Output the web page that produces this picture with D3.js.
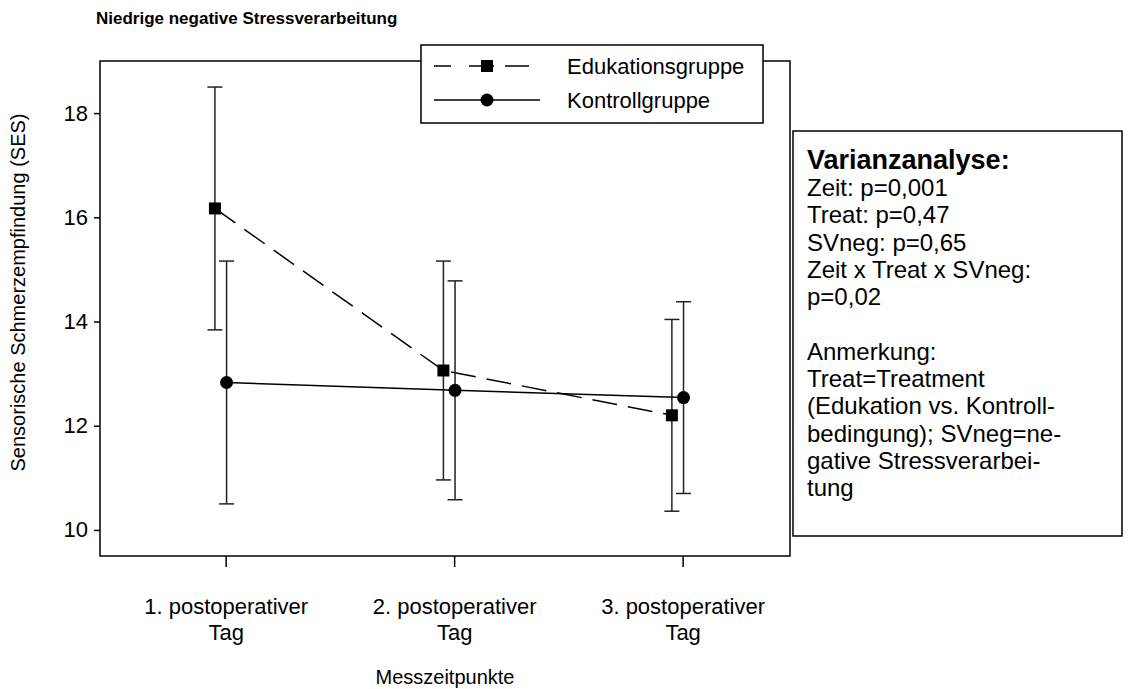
<!DOCTYPE html>
<html>
<head>
<meta charset="utf-8">
<script src="https://cdn.jsdelivr.net/npm/d3@7"></script>
<style>
  body { margin: 0; background: #fff; }
  svg { display: block; font-family: Arial, "Liberation Sans", sans-serif; }
</style>
</head>
<body>
<script>
// Werte
const categories = [1, 2, 3];
const categoryLabels = [["1. postoperativer", "Tag"], ["2. postoperativer", "Tag"], ["3. postoperativer", "Tag"]];
const eduMean = [16.17, 13.06, 12.20];
const eduErr = [2.33, 2.10, 1.84];
const konMean = [12.83, 12.68, 12.54];
const konErr = [2.33, 2.10, 1.84];
const yTicks = [10, 12, 14, 16, 18];
const statsLines = ["Zeit: p=0,001", "Treat: p=0,47", "SVneg: p=0,65", "Zeit x Treat x SVneg:", "p=0,02", "",
  "Anmerkung:", "Treat=Treatment", "(Edukation vs. Kontroll-", "bedingung); SVneg=ne-", "gative Stressverarbei-", "tung"];

const width = 1136, height = 689;
const plot = {left: 100, right: 790, top: 61, bottom: 556};

const svg = d3.select('body').append('svg')
  .attr('width', width)
  .attr('height', height);

const x = d3.scaleLinear().domain([0.45, 3.47]).range([plot.left, plot.right]);
const y = d3.scaleLinear().domain([9.5, 19]).range([plot.bottom, plot.top]);

// rahmen
svg.append('rect')
  .attr('x', plot.left).attr('y', plot.top)
  .attr('width', plot.right - plot.left).attr('height', plot.bottom - plot.top)
  .attr('fill', 'none').attr('stroke', '#000').attr('stroke-width', 1.5);

// y achse
const yAxis = svg.append('g')
  .attr('transform', `translate(${plot.left},0)`)
  .call(d3.axisLeft(y).tickValues(yTicks).tickSize(6).tickPadding(6));
yAxis.select('.domain').remove();
yAxis.selectAll('line').attr('stroke', '#000').attr('stroke-width', 1.5);
yAxis.selectAll('text').attr('font-size', 22).attr('fill', '#000').attr('font-family', null);

// x achse
const xAxis = svg.append('g')
  .attr('transform', `translate(0,${plot.bottom})`)
  .call(d3.axisBottom(x).tickValues(categories).tickSize(11).tickFormat(''));
xAxis.select('.domain').remove();
xAxis.selectAll('line').attr('stroke', '#000').attr('stroke-width', 1.5);
xAxis.selectAll('.tick').each(function(d, i) {
  const t = d3.select(this).append('text')
    .attr('fill', '#000').attr('font-size', 22).attr('text-anchor', 'middle');
  categoryLabels[i].forEach((s, j) => {
    t.append('tspan').attr('x', 0).attr('y', 58 + j * 26).text(s);
  });
});

svg.append('text')
  .attr('x', 445).attr('y', 684)
  .attr('text-anchor', 'middle').attr('font-size', 20)
  .text('Messzeitpunkte');

svg.append('text')
  .attr('transform', `translate(25,${(plot.top + plot.bottom) / 2 - 16}) rotate(-90)`)
  .attr('text-anchor', 'middle').attr('font-size', 20)
  .text('Sensorische Schmerzempfindung (SES)');

svg.append('text')
  .attr('x', 96).attr('y', 24)
  .attr('font-size', 17).attr('font-weight', 'bold')
  .text('Niedrige negative Stressverarbeitung');

// gruppen
const groups = [
  {name: 'Edukationsgruppe', mean: eduMean, err: eduErr, off: -0.047, dash: '25,11', shape: 'square'},
  {name: 'Kontrollgruppe', mean: konMean, err: konErr, off: 0.004, dash: null, shape: 'circle'}
];

groups.forEach(g => {
  const pts = categories.map((c, i) => ({cx: x(c + g.off), m: g.mean[i], e: g.err[i]}));
  const gg = svg.append('g');

  // fehlerbalken
  pts.forEach(p => {
    gg.append('line')
      .attr('x1', p.cx).attr('x2', p.cx)
      .attr('y1', y(p.m - p.e)).attr('y2', y(p.m + p.e))
      .attr('stroke', '#222').attr('stroke-width', 1.5);
    [p.m - p.e, p.m + p.e].forEach(v => {
      gg.append('line')
        .attr('x1', p.cx - 7.5).attr('x2', p.cx + 7.5)
        .attr('y1', y(v)).attr('y2', y(v))
        .attr('stroke', '#222').attr('stroke-width', 1.5);
    });
  });

  gg.append('path')
    .datum(pts)
    .attr('d', d3.line().x(p => p.cx).y(p => y(p.m)))
    .attr('fill', 'none').attr('stroke', '#000').attr('stroke-width', 1.5)
    .attr('stroke-dasharray', g.dash);

  pts.forEach(p => {
    if (g.shape === 'square') {
      gg.append('rect')
        .attr('x', p.cx - 6).attr('y', y(p.m) - 6)
        .attr('width', 12).attr('height', 12).attr('fill', '#000');
    } else {
      gg.append('circle').attr('cx', p.cx).attr('cy', y(p.m)).attr('r', 6.5).attr('fill', '#000');
    }
  });
});

// legende
const leg = svg.append('g');
leg.append('rect')
  .attr('x', 421).attr('y', 45).attr('width', 342).attr('height', 78)
  .attr('fill', '#fff').attr('stroke', '#000').attr('stroke-width', 1.5);
groups.forEach((g, i) => {
  const ly = 66 + i * 34;
  leg.append('line')
    .attr('x1', 434).attr('x2', g.dash ? 530 : 540).attr('y1', ly).attr('y2', ly)
    .attr('stroke', '#000').attr('stroke-width', 1.5)
    .attr('stroke-dasharray', g.dash ? '17,18,25,11,24' : null);
  if (g.shape === 'square') {
    leg.append('rect').attr('x', 481).attr('y', ly - 6).attr('width', 12).attr('height', 12).attr('fill', '#000');
  } else {
    leg.append('circle').attr('cx', 487).attr('cy', ly).attr('r', 6.5).attr('fill', '#000');
  }
  leg.append('text')
    .attr('x', 567).attr('y', ly + 8)
    .attr('font-size', 22)
    .text(g.name);
});

// statistik kasten
const box = svg.append('g');
box.append('rect')
  .attr('x', 793).attr('y', 131).attr('width', 329).attr('height', 405)
  .attr('fill', '#fff').attr('stroke', '#000').attr('stroke-width', 1.5);
box.append('text')
  .attr('x', 807).attr('y', 169)
  .attr('font-size', 27).attr('font-weight', 'bold')
  .text('Varianzanalyse:');
statsLines.forEach((s, i) => {
  box.append('text')
    .attr('x', 807).attr('y', 196 + i * 27.3)
    .attr('font-size', 24)
    .text(s);
});
</script>
</body>
</html>
